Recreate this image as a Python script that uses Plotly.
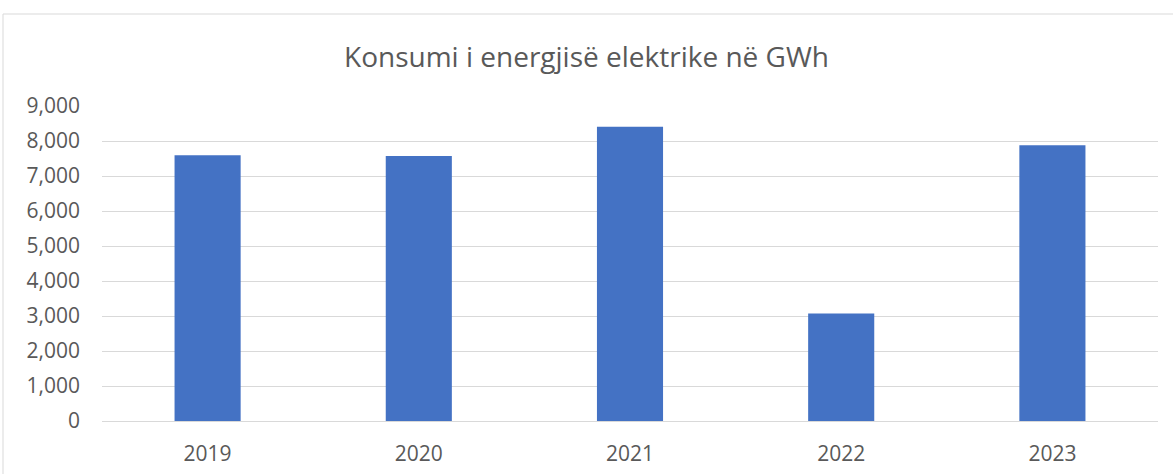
import plotly.graph_objects as go

years = ["2019", "2020", "2021", "2022", "2023"]
consumption_gwh = [7590, 7570, 8410, 3070, 7880]
y_ticks = [0, 1000, 2000, 3000, 4000, 5000, 6000, 7000, 8000, 9000]
title_text = "Konsumi i energjisë elektrike në GWh"

FONT = "Open Sans"
TXT = "#595959"
GRID = "#D9D9D9"

fig = go.Figure(go.Bar(
    x=years, y=consumption_gwh,
    marker=dict(color="#4472C4", line=dict(width=0)),
    hoverinfo="x+y",
))

L, R, T, B = 102, 15, 106, 53
W, H = 1173, 474
pw, ph = W - L - R, H - T - B

fig.update_layout(
    width=W, height=H,
    margin=dict(l=L, r=R, t=T, b=B, pad=0, autoexpand=False),
    paper_bgcolor="white", plot_bgcolor="white",
    bargap=0.687,
    showlegend=False,
    title=dict(text=title_text, x=0.5, xanchor="center", y=1 - 57 / H, yanchor="middle",
               font=dict(family=FONT, size=28, color=TXT)),
    xaxis=dict(showgrid=False, showline=True, linecolor=GRID, linewidth=1,
               tickfont=dict(family=FONT, size=21, color=TXT), ticks="",
               ticklabelstandoff=14, zeroline=False, automargin=False),
    yaxis=dict(range=[0, 9000], tickvals=y_ticks, tickformat=",d",
               showgrid=True, gridcolor=GRID, gridwidth=1, showline=False, zeroline=False,
               tickfont=dict(family=FONT, size=21, color=TXT), ticks="",
               ticklabelstandoff=21, automargin=False),
    shapes=[
        dict(type="line", xref="paper", yref="paper",
             x0=(3 - L) / pw, x1=(W + 10 - L) / pw,
             y0=(H - B - 14) / ph, y1=(H - B - 14) / ph,
             line=dict(color=GRID, width=1)),
        dict(type="line", xref="paper", yref="paper",
             x0=(3 - L) / pw, x1=(3 - L) / pw,
             y0=(H - B - 14) / ph, y1=-(B + 10) / ph,
             line=dict(color=GRID, width=1)),
    ],
)

fig.write_html("out.html", config={"displayModeBar": False},
               post_script="document.body.style.margin='0';document.body.style.overflow='hidden';")
